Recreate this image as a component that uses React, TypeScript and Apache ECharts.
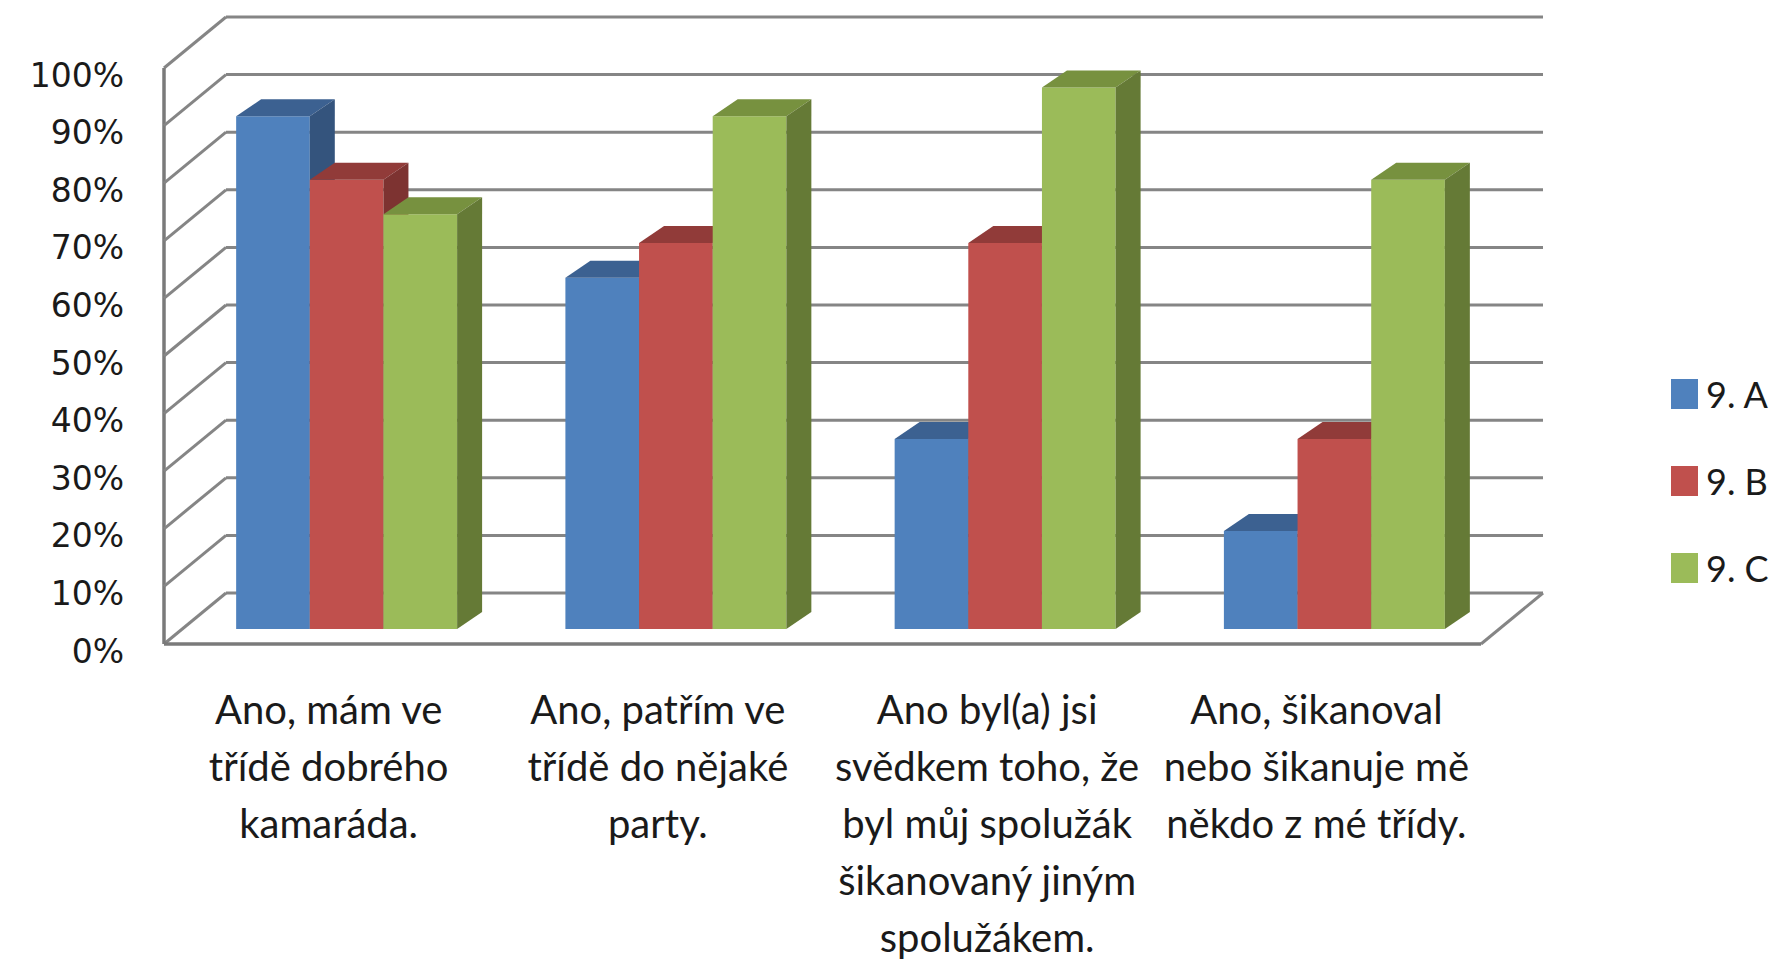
import React, { useEffect, useRef } from "react";
import * as echarts from "echarts";

const categories = [
  "Ano, mám ve\ntřídě dobrého\nkamaráda.",
  "Ano, patřím ve\ntřídě do nějaké\nparty.",
  "Ano byl(a) jsi\nsvědkem toho, že\nbyl můj spolužák\nšikanovaný jiným\nspolužákem.",
  "Ano, šikanoval\nnebo šikanuje mě\nněkdo z mé třídy.",
];
const seriesNames = ["9. A", "9. B", "9. C"];
const valuesA = [89, 61, 33, 17];
const valuesB = [78, 67, 67, 33];
const valuesC = [72, 89, 94, 78];
const yTicks = [0, 10, 20, 30, 40, 50, 60, 70, 80, 90, 100];

const FRONT = ["#4F81BD", "#C0504D", "#9BBB59"];
const TOP = ["#3C6191", "#913B39", "#77913F"];
const SIDE = ["#34547D", "#7D3331", "#657A36"];

const WALL_DX = 62;
const WALL_DY = -51;
const BAR_OFF_X = 18;
const BAR_OFF_Y = -15;
const BAR_DX = 25;
const BAR_DY = -17;
const BAR_FRAC = 0.2237;
const GRID_COLOR = "#858585";
const LABEL_FONT = "Lato, 'Liberation Sans', sans-serif";

function barSeries(name: string, values: number[], idx: number) {
  return {
    type: "custom",
    name,
    itemStyle: { color: FRONT[idx] },
    data: values.map((v, i) => [i, v]),
    encode: { x: 0, y: 1 },
    renderItem: (params: any, api: any) => {
      const cat = api.value(0);
      const val = api.value(1);
      const p0 = api.coord([cat, 0]);
      const pv = api.coord([cat, val]);
      const band = api.size([1, 0])[0];
      const bw = band * BAR_FRAC;
      const xl = p0[0] - 1.5 * bw + idx * bw + BAR_OFF_X;
      const yb = p0[1] + BAR_OFF_Y;
      const yt = pv[1] + BAR_OFF_Y;
      return {
        type: "group",
        children: [
          {
            type: "rect",
            shape: { x: xl, y: yt, width: bw, height: yb - yt },
            style: { fill: FRONT[idx] },
          },
          {
            type: "polygon",
            shape: {
              points: [
                [xl, yt],
                [xl + bw, yt],
                [xl + bw + BAR_DX, yt + BAR_DY],
                [xl + BAR_DX, yt + BAR_DY],
              ],
            },
            style: { fill: TOP[idx] },
          },
          {
            type: "polygon",
            shape: {
              points: [
                [xl + bw, yt],
                [xl + bw + BAR_DX, yt + BAR_DY],
                [xl + bw + BAR_DX, yb + BAR_DY],
                [xl + bw, yb],
              ],
            },
            style: { fill: SIDE[idx] },
          },
        ],
      };
    },
  };
}

export default function App() {
  const ref = useRef<HTMLDivElement>(null);
  useEffect(() => {
    if (!ref.current) return;
    const chart = echarts.init(ref.current, null, { renderer: "svg" });
    const option: any = {
      animation: false,
      backgroundColor: "#ffffff",
      grid: {
        left: 164,
        top: 68,
        width: 1317,
        height: 576,
        containLabel: false,
        outerBoundsMode: "none",
      },
      legend: {
        data: seriesNames,
        orient: "vertical",
        left: 1671,
        top: 376,
        padding: 0,
        itemWidth: 27,
        itemHeight: 30,
        itemGap: 51,
        icon: "rect",
        textStyle: {
          fontSize: 36,
          lineHeight: 30,
          color: "#1a1a1a",
          fontFamily: LABEL_FONT,
          padding: [0, 0, 0, 3],
        },
      },
      xAxis: {
        type: "category",
        data: categories,
        axisLine: { show: false },
        axisTick: { show: false },
        splitLine: { show: false },
        axisLabel: {
          interval: 0,
          margin: 36,
          fontSize: 40,
          lineHeight: 57,
          color: "#1a1a1a",
          fontFamily: LABEL_FONT,
          align: "center",
        },
      },
      yAxis: {
        type: "value",
        min: 0,
        max: 100,
        interval: 10,
        axisLine: { show: false },
        axisTick: { show: false },
        splitLine: { show: false },
        axisLabel: {
          formatter: (v: number) => `{v|${v}%}`,
          margin: 40,
          color: "#1a1a1a",
          rich: {
            v: {
              fontSize: 33,
              color: "#1a1a1a",
              fontFamily: "'DejaVu Sans', sans-serif",
              padding: [14, 0, 0, 0],
            },
          },
        },
      },
      series: [
        {
          type: "custom",
          name: "walls",
          silent: true,
          data: yTicks.map((v) => [0, v]),
          encode: { x: 0, y: 1 },
          renderItem: (params: any, api: any) => {
            const cs = params.coordSys;
            const y = api.coord([0, api.value(1)])[1];
            const ls = { stroke: GRID_COLOR, lineWidth: 3 };
            const children: any[] = [
              {
                type: "line",
                shape: { x1: cs.x, y1: y, x2: cs.x + WALL_DX, y2: y + WALL_DY },
                style: ls,
              },
              {
                type: "line",
                shape: {
                  x1: cs.x + WALL_DX,
                  y1: y + WALL_DY,
                  x2: cs.x + cs.width + WALL_DX,
                  y2: y + WALL_DY,
                },
                style: ls,
              },
            ];
            if (api.value(1) === 0) {
              children.push(
                {
                  type: "line",
                  shape: { x1: cs.x, y1: y, x2: cs.x + cs.width, y2: y },
                  style: { stroke: "#7a7a7a", lineWidth: 3.5 },
                },
                {
                  type: "line",
                  shape: {
                    x1: cs.x + cs.width,
                    y1: y,
                    x2: cs.x + cs.width + WALL_DX,
                    y2: y + WALL_DY,
                  },
                  style: ls,
                },
                {
                  type: "line",
                  shape: { x1: cs.x, y1: cs.y, x2: cs.x, y2: cs.y + cs.height },
                  style: { stroke: "#7a7a7a", lineWidth: 3.5 },
                }
              );
            }
            return { type: "group", children };
          },
        },
        barSeries(seriesNames[0], valuesA, 0),
        barSeries(seriesNames[1], valuesB, 1),
        barSeries(seriesNames[2], valuesC, 2),
      ],
    };
    chart.setOption(option);
    return () => chart.dispose();
  }, []);
  return (
    <div
      ref={ref}
      style={{ position: "fixed", left: 0, top: 0, width: 1777, height: 961, background: "#fff" }}
    />
  );
}
